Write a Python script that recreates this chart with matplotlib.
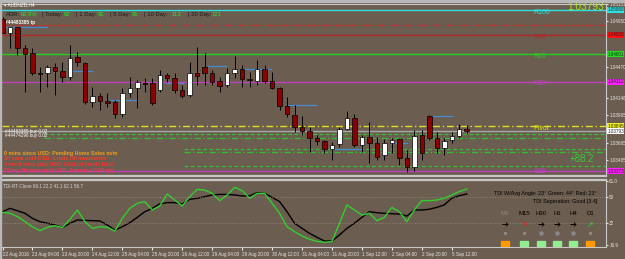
import numpy as np
import matplotlib.pyplot as plt
from matplotlib.patches import Rectangle

plt.rcParams['font.family'] = ['Liberation Sans', 'DejaVu Sans']

# AUDNZD H4 candles (22 Aug 2016 12:00 -> 5 Sep 2016 20:00)
opens = [1.04968, 1.04831, 1.04884, 1.04664, 1.04611, 1.04401, 1.04401, 1.04464, 1.04422, 1.04359,
         1.04569, 1.04506, 1.04097, 1.04160, 1.04108, 1.04097, 1.03971, 1.04191, 1.04244, 1.04296,
         1.04296, 1.04223, 1.04380, 1.04349, 1.04223, 1.04170, 1.04401, 1.04464, 1.04401, 1.04317,
         1.04275, 1.04401, 1.04443, 1.04338, 1.04317, 1.04443, 1.04317, 1.04244, 1.04055, 1.03961,
         1.03835, 1.03793, 1.03719, 1.03688, 1.03604, 1.03656, 1.03814, 1.03929, 1.03646, 1.03730,
         1.03667, 1.03541, 1.03667, 1.03709, 1.03510, 1.03415, 1.03751, 1.03950, 1.03719, 1.03615,
         1.03698, 1.03740, 1.03814]
highs = [1.04989, 1.04894, 1.04894, 1.04695, 1.04664, 1.04464, 1.04485, 1.04506, 1.04517, 1.04695,
         1.04622, 1.04517, 1.04254, 1.04191, 1.04191, 1.04118, 1.04244, 1.04359, 1.04328, 1.04349,
         1.04349, 1.04433, 1.04401, 1.04401, 1.04275, 1.04517, 1.04674, 1.04611, 1.04433, 1.04359,
         1.04454, 1.04580, 1.04485, 1.04412, 1.04538, 1.04485, 1.04412, 1.04254, 1.04150, 1.04066,
         1.03950, 1.03835, 1.03751, 1.03698, 1.03677, 1.03835, 1.04003, 1.03971, 1.03751, 1.03887,
         1.03730, 1.03709, 1.03719, 1.03719, 1.03594, 1.03803, 1.03803, 1.03961, 1.03782, 1.03719,
         1.03782, 1.03866, 1.03856]
lows = [1.04821, 1.04664, 1.04590, 1.04202, 1.04380, 1.04202, 1.04254, 1.04170, 1.04307, 1.04328,
        1.04475, 1.04076, 1.04045, 1.04013, 1.04045, 1.03929, 1.03940, 1.04150, 1.04034, 1.04202,
        1.04066, 1.04202, 1.04307, 1.04191, 1.04139, 1.04150, 1.04275, 1.04275, 1.04275, 1.04202,
        1.04254, 1.04349, 1.04254, 1.04254, 1.04275, 1.04296, 1.04233, 1.04013, 1.03940, 1.03782,
        1.03751, 1.03573, 1.03646, 1.03562, 1.03489, 1.03625, 1.03803, 1.03625, 1.03573, 1.03457,
        1.03489, 1.03489, 1.03562, 1.03436, 1.03363, 1.03373, 1.03489, 1.03698, 1.03562, 1.03541,
        1.03667, 1.03719, 1.03772]
closes = [1.04831, 1.04884, 1.04664, 1.04601, 1.04401, 1.04396, 1.04464, 1.04422, 1.04359, 1.04559,
          1.04517, 1.04097, 1.04160, 1.04108, 1.04087, 1.03971, 1.04191, 1.04244, 1.04307, 1.04291,
          1.04087, 1.04380, 1.04349, 1.04223, 1.04160, 1.04401, 1.04370, 1.04401, 1.04307, 1.04265,
          1.04401, 1.04443, 1.04338, 1.04328, 1.04443, 1.04317, 1.04244, 1.04055, 1.03971, 1.03835,
          1.03793, 1.03719, 1.03688, 1.03604, 1.03646, 1.03814, 1.03929, 1.03646, 1.03730, 1.03667,
          1.03520, 1.03667, 1.03698, 1.03510, 1.03415, 1.03740, 1.03562, 1.03719, 1.03615, 1.03688,
          1.03740, 1.03814, 1.03793]

# TDI values
tdi_green = [39.2, 38.5, 36.2, 32.7, 29.2, 26.5, 28.8, 29.9, 28.6, 34.3, 40.8, 32.7, 28.1, 29.2, 28.8,
             26.2, 35.0, 41.9, 45.4, 46.6, 40.8, 43.6, 51.9, 47.7, 43.6, 50.0, 55.1, 54.6, 52.3, 47.3,
             51.2, 56.5, 54.2, 48.9, 52.3, 52.3, 45.4, 38.5, 29.2, 25.8, 22.8, 20.5, 19.1, 18.4, 18.9,
             31.6, 44.3, 40.8, 37.3, 38.5, 33.4, 35.7, 42.6, 39.6, 32.7, 40.8, 47.3, 47.3, 47.7, 48.9,
             51.2, 53.5, 55.3]
tdi_black = [39.6, 41.9, 40.3, 38.5, 35.0, 32.7, 31.6, 30.4, 28.6, 31.6, 33.9, 33.6, 33.4, 33.2, 30.4,
             26.9, 29.2, 32.0, 35.7, 39.6, 41.9, 45.0, 45.9, 45.9, 45.0, 48.2, 48.9, 50.0, 51.2, 51.6,
             51.6, 51.2, 50.5, 50.5, 52.8, 52.3, 49.6, 46.6, 39.6, 31.6, 28.1, 24.6, 21.9, 19.3, 19.3,
             23.5, 28.1, 31.6, 35.7, 39.6, 38.9, 38.5, 38.2, 38.0, 36.6, 40.8, 40.8, 41.3, 42.6, 44.3,
             48.9, 50.7, 51.9]

time_labels = ['22 Aug 2016', '23 Aug 04:00', '23 Aug 20:00', '24 Aug 12:00', '25 Aug 04:00',
               '25 Aug 20:00', '26 Aug 12:00', '29 Aug 04:00', '29 Aug 20:00', '30 Aug 12:00',
               '31 Aug 04:00', '31 Aug 20:00', '1 Sep 12:00', '2 Sep 04:00', '2 Sep 20:00', '5 Sep 12:00']

# levels drawn across the chart: (price, colour, style, label)
levels = [(1.05068, '#30e0e0', '-', 'R100'), (1.04905, '#c03030', (0, (5, 2, 1, 2)), ''),
          (1.04805, '#b02828', '-', 'R78'), (1.04601, '#20d020', '-', 'R61'),
          (1.04312, '#c040c0', '-', 'R38'), (1.03845, '#e0e020', (0, (5, 2, 1, 2)), 'Pivot'),
          (1.03793, '#a8a8a8', '-', ''), (1.03373, '#c040c0', '-', 'S38')]
order_lines = [(1.03762, 5.5, (0, (3, 2))), (1.03720, 5.5, (0, (5, 2, 1, 2)))]
target_lines = [(1.03601, 24.2, (0, (3, 2))), (1.03570, 24.2, (0, (5, 2, 1, 2))), (1.03426, 24.2, (0, (3, 2)))]
# short blue pivot segments: (price, start bar, end bar)
blue_segs = [(1.04884, 0.2, 6.0), (1.04422, 8.7, 11.9), (1.04118, 14.4, 18.0), (1.04296, 22.0, 24.1),
             (1.04475, 27.4, 29.9), (1.04443, 32.2, 35.8), (1.04066, 38.0, 41.9), (1.03950, 57.4, 60.0),
             (1.03667, 51.8, 54.0), (1.03604, 44.2, 48.0)]

price_ticks = [1.05131, 1.04950, 1.04470, 1.04146, 1.03965, 1.03665, 1.03485]
axis_boxes = [(1.05068, '#30e0e0'), (1.04805, '#ff1010'), (1.04601, '#20e020'), (1.04312, '#ff20ff'),
              (1.03845, '#f0f020'), (1.03793, '#ffffff'), (1.03373, '#ff20ff')]

news = [('0 mins since USD: Pending Home Sales m/m', '#f0a020'),
        ('30 mins until USD: Crude Oil Inventories', '#ff3a2a'),
        ('4 hrs 0 mins until USD: Federal Funds Rate', '#ff3030'),
        ('22 hrs 30 mins until USD: Advance GDP q/q', '#ff3050')]
adr_parts = [('ADR:', '62.9%'), ('| Today:', '62'), ('| 1 Day:', '91'), ('| 5 Day:', '91'),
             ('| 10 Day:', '113'), ('| 20 Day:', '121')]
tf_names = ['M5', 'M15', 'H30', 'H1', 'H4', 'D1']
tf_arrows = ['➔', '➘', '➔', '➔', '➔', '➚']
tf_arrow_col = ['black', '#ff1010', 'black', 'black', 'black', '#20e020']
tf_box_col = ['#ff9900', '#90ee90', '#90ee90', '#90ee90', '#90ee90', '#ff9900']

BG = '#6b5d4f'
W, H = 625, 259


def px_rect(x0, y0, x1, y1):
    return [x0 / W, 1 - y1 / H, (x1 - x0) / W, (y1 - y0) / H]


fig = plt.figure(figsize=(6.25, 2.59), dpi=100, facecolor=BG)
ax = fig.add_axes(px_rect(2, 4, 606, 176))
ind = fig.add_axes(px_rect(2, 180, 606, 247), sharex=ax)
for a in (ax, ind):
    a.set_facecolor(BG)
    for s in a.spines.values():
        s.set_color('#c8c8c8')
        s.set_linewidth(0.8)
    a.spines['left'].set_visible(False)
ax.spines['bottom'].set_linewidth(1.6)
ind.spines['top'].set_linewidth(1.6)

x = np.arange(len(opens))
o = np.array(opens); c = np.array(closes)
ax.set_xlim(-0.07, 80.6)
ax.set_ylim(1.03321, 1.05125)

# levels
for p, col, ls, lab in levels:
    ax.axhline(p, color=col, lw=1.0, ls=ls, zorder=1)
    if lab:
        off = -0.00022 if lab != 'S38' else 0.0
        ax.text(70.9, p + off, lab, color=col, fontsize=5, va='center', zorder=5)
for p, x0, ls in order_lines + target_lines:
    ax.plot([x0, 80.6], [p, p], color='#30c030', lw=0.9, ls=ls, zorder=1)
for p, a0, a1 in blue_segs:
    ax.plot([a0, a1], [p, p], color='#4a8ad0', lw=0.9, zorder=2)

# candles
ax.vlines(x, lows, highs, color='black', lw=0.7, zorder=3)
up = c >= o
body = np.maximum(np.abs(c - o), 0.00003)
ax.bar(x[up], body[up], bottom=o[up], width=0.6, color='white', edgecolor='black', lw=0.5, zorder=4)
ax.bar(x[~up], body[~up], bottom=c[~up], width=0.6, color='#8b0000', edgecolor='black', lw=0.5, zorder=4)

# price axis
ax.yaxis.tick_right()
ax.set_yticks(price_ticks)
ax.set_yticklabels([f'{p:.5f}' for p in price_ticks])
ax.tick_params(axis='y', labelsize=3.3, colors='#e8e8e8', length=1.5, pad=0.8)
ax.tick_params(axis='x', bottom=False, labelbottom=False)
for p, col in axis_boxes:
    ax.text(1.002, p, f'{p:.5f}', transform=ax.get_yaxis_transform(), fontsize=3.3, color='#202020',
            va='center', ha='left', bbox=dict(boxstyle='square,pad=0.1', fc=col, ec='none'), zorder=6)

# texts on main panel
ax.text(0.9975, 1.05100, f'{closes[-1]:.5f}', transform=ax.get_yaxis_transform(), color='#a0f020',
        fontsize=7.3, ha='right', va='center')
ax.text(77.4, 1.03499, '+88.2', color='#30d030', fontsize=7, ha='center', va='center')
xp = [5, 20, 41, 63, 75, 97, 109, 131, 143, 171, 187, 211]
k = 0
for lab, val in adr_parts:
    ax.text((xp[k] - 1.5) / 7.5, 1.05021, lab, color='#1a1a1a', fontsize=4.2, va='center')
    ax.text((xp[k + 1] - 1.5) / 7.5, 1.05021, val, color='#30e030', fontsize=4.2, va='center')
    k += 2
ax.text(0.3, 1.04937, '#44483385 tp', color='white', fontsize=3.4, va='center', weight='bold')
ax.text(0.3, 1.03790, '#44483385 buy 0.02', color='white', fontsize=3.3, va='center')
ax.text(0.3, 1.03745, '#44474296 buy 0.02', color='white', fontsize=3.3, va='center')
for j, (t, col) in enumerate(news):
    ax.text(0.2, 1.03560 - j * 0.000595, t, color=col, fontsize=3.8, weight='bold', va='center')

# indicator panel
ind.set_ylim(15.17, 61.56)
ind.plot(x, tdi_black, color='black', lw=1.0)
ind.plot(x, tdi_green, color='#30d030', lw=1.0)
for lv in (50, 32):
    ind.axhline(lv, color='#9a8c7e', lw=0.6, ls=(0, (1, 2)))
ind.yaxis.tick_right()
ind.set_yticks([61.0, 50, 32, 16.9])
ind.set_yticklabels(['61.0', '50', '32', '16.9'])
ind.tick_params(axis='y', labelsize=3.3, colors='#e8e8e8', length=1.5, pad=0.8)
ind.set_xticks(np.arange(0, 64, 4))
ind.set_xticklabels(time_labels)
ind.tick_params(axis='x', labelsize=3.3, colors='#e8e8e8', length=2, pad=1.5)
for lbl in ind.get_xticklabels():
    lbl.set_ha('left')
ind.text(0.002, 0.94, 'TDI-RT-Clone 66.1 22.2 41.1 62.1 56.7', transform=ind.transAxes, color='#d8d8d8',
         fontsize=3.3, va='top')
ind.text(0.985, 0.8, 'TDI W/Avg Angle: 23° Green: 44° Red: 23°', transform=ind.transAxes, color='black',
         fontsize=3.9, ha='right', va='center')
ind.text(0.985, 0.68, 'TDI Seperation: Good [3.4]', transform=ind.transAxes, color='black',
         fontsize=3.9, ha='right', va='center')
tf_x = [505, 524, 541, 557, 573, 590]
for j, name in enumerate(tf_names):
    fx = (tf_x[j] - 2) / 604
    ind.text(fx, 0.50, name, transform=ind.transAxes, color='#8a8a8a' if j == 0 else 'black',
             fontsize=4.3, ha='center', va='center')
    ind.text(fx, 0.34, tf_arrows[j], transform=ind.transAxes, color=tf_arrow_col[j],
             fontsize=6, ha='center', va='center', weight='bold', family='DejaVu Sans')
    ind.plot([fx], [0.21], 'o', transform=ind.transAxes, ms=2.2 if j in (2, 3, 4) else 1.4,
             color='#8a8a8a', mec='#8a8a8a')
    ind.add_patch(Rectangle((fx - 0.006, 0.01), 0.012, 0.075, transform=ind.transAxes,
                            color=tf_box_col[j], zorder=5))

# window caption
fig.text(4 / W, 1 - 4.5 / H, '▾ AUDNZD,H4', color='white', fontsize=3.4, va='center')
fig.add_artist(Rectangle((0, 1 - 1.5 / H), 1, 1.5 / H, transform=fig.transFigure, color='#b8b8b8'))
fig.add_artist(Rectangle((0, 0), 1.5 / W, 1, transform=fig.transFigure, color='#b8b8b8'))

fig.savefig('out.png', dpi=100, facecolor=BG)
